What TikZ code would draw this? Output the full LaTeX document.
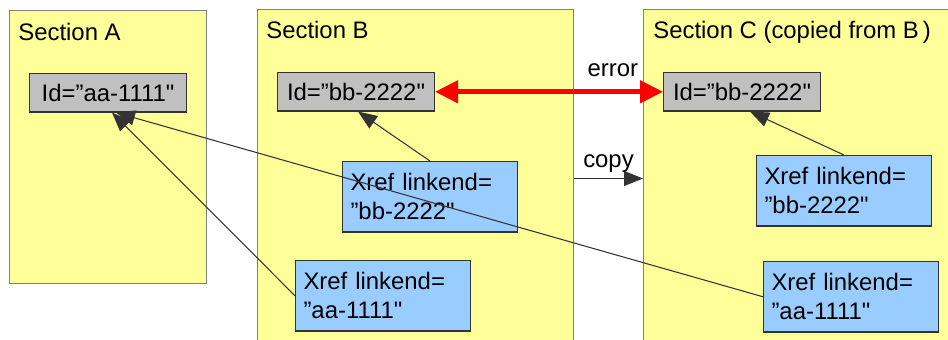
\documentclass[tikz,border=0pt]{standalone}
\usepackage{fontspec}
\setmainfont{Liberation Sans}[Ligatures=TeXOff]
\usepackage{xcolor}
\usetikzlibrary{arrows.meta, calc}
\definecolor{noteYellow}{HTML}{FFFF99}
\definecolor{idGrey}{HTML}{C0C0C0}
\definecolor{xrefBlue}{HTML}{99CCFF}
\definecolor{lineDark}{HTML}{333333}
\definecolor{frameGrey}{HTML}{808080}
\newcommand{\diagfont}{\fontsize{13.6pt}{16.4pt}\selectfont}
\tikzset{
    box_section/.style={
        rectangle, draw=frameGrey, line width=0.6pt, fill=noteYellow,
        anchor=north west, inner sep=0pt
    },
    box_id/.style={
        rectangle, draw=lineDark, line width=0.6pt, fill=idGrey,
        anchor=north west, minimum width=3.14cm, minimum height=0.77cm,
        inner sep=0pt, font=\diagfont
    },
    box_xref/.style={
        rectangle, draw=lineDark, line width=0.6pt, fill=xrefBlue,
        anchor=north west, text width=3.18cm, inner xsep=0.16cm, inner ysep=0pt,
        minimum height=1.41cm, align=left, font=\diagfont
    },
    sec_title/.style={
        anchor=base west, inner sep=0pt, font=\diagfont
    },
    ref_arrow/.style={
        -{Triangle[length=0.38cm, width=0.30cm]}, draw=lineDark, line width=0.6pt
    },
    err_arrow/.style={
        {Triangle[length=0.46cm, width=0.44cm]}-{Triangle[length=0.46cm, width=0.44cm]},
        draw=red, line width=2.6pt
    },
    lbl/.style={
        font=\diagfont, inner sep=0pt
    }
}

\begin{document}
\begin{tikzpicture}[x=0.02cm, y=-0.02cm]
    \useasboundingbox (0,0) rectangle (948,339);
    \clip (0,0) rectangle (948,339);

    % Sections as yellow sheets
    \node[box_section, minimum width=3.94cm, minimum height=5.46cm] (secA) at (9,10) {};
    \node[box_section, minimum width=6.32cm, minimum height=6.76cm] (secB) at (257,9) {};
    \node[box_section, minimum width=6.40cm, minimum height=6.76cm] (secC) at (643,9) {};
    \node[sec_title] (titleA) at (18,40) {Section A};
    \node[sec_title] (titleB) at (266,38) {Section B};
    \node[sec_title] (titleC) at (653,38) {Section C (copied from B\,)};

    % Ids
    \node[box_id] (idA) at (29,73) {Id=”aa-1111"};
    \node[box_id] (idB) at (277,72) {Id=”bb-2222"};
    \node[box_id] (idC) at (663,72) {Id=”bb-2222"};

    % Xrefs
    \node[box_xref] (xrefBbb) at (342,161) {Xref linkend=\\”bb-2222"};
    \node[box_xref] (xrefBaa) at (295,260) {Xref linkend=\\”aa-1111"};
    \node[box_xref] (xrefCbb) at (756,155) {Xref linkend=\\”bb-2222"};
    \node[box_xref] (xrefCaa) at (763,261) {Xref linkend=\\”aa-1111"};

    % Links back to the ids
    \draw[ref_arrow] (xrefBaa.west) -- ($(idA.south)+(4,0)$);
    \draw[ref_arrow] (xrefCaa.west) -- ($(idA.south)+(8,0)$);
    \draw[ref_arrow] (xrefBbb.north) -- ($(idB.south)+(2,0)$);
    \draw[ref_arrow] (xrefCbb.north) -- ($(idC.south)+(8,0)$);

    % Duplicate id and copy step
    \draw[err_arrow] (idB.east) -- node[lbl, pos=0.78, above=7pt] (lblErr) {error} (idC.west);
    \draw[ref_arrow] (secB.east) -- node[lbl, above=3pt] (lblCopy) {copy} (secC.west);
\end{tikzpicture}
\end{document}
